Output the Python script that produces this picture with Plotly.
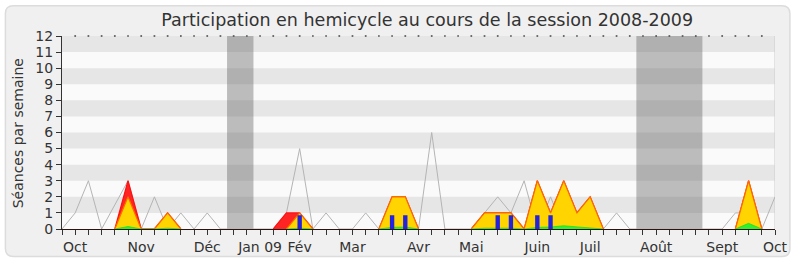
import plotly.graph_objects as go

weeks = list(range(55))
month_labels = {1: "Oct", 6: "Nov", 11: "Déc", 15: "Jan 09", 18: "Fév", 22: "Mar",
                27: "Avr", 31: "Mai", 36: "Juin", 40: "Juil", 45: "Août", 50: "Sept", 54: "Oct"}
tick_text = [month_labels.get(w, "") for w in weeks]

# median participation (grey line)
median = [0, 1, 3, 0, 1.5, 3, 0, 2, 0, 1,
          0, 1, 0, 0, 0, 0, 0, 1, 5, 0,
          1, 0, 0, 1, 0, 0, 0, 0, 6, 0,
          0, 0, 1, 2, 1, 3, 0, 2, 0, 0,
          0, 0, 1, 0, 0, 0, 0, 0, 0, 0,
          0, 1, 1, 0, 2]
# présences (red)
presence = [0, 0, 0, 0, 0, 3, 0, 0, 1, 0,
            0, 0, 0, 0, 0, 0, 0, 1, 1, 0,
            0, 0, 0, 0, 0, 2, 2, 0, 0, 0,
            0, 0, 1, 1, 1, 0, 3, 1, 3, 1,
            2, 0, 0, 0, 0, 0, 0, 0, 0, 0,
            0, 0, 3, 0, 0]
# séances (yellow)
seances = [0, 0, 0, 0, 0, 2, 0, 0, 1, 0,
           0, 0, 0, 0, 0, 0, 0, 0, 1, 0,
           0, 0, 0, 0, 0, 2, 2, 0, 0, 0,
           0, 0, 1, 1, 1, 0, 3, 1, 3, 1,
           2, 0, 0, 0, 0, 0, 0, 0, 0, 0,
           0, 0, 3, 0, 0]
# interventions (green)
interventions = [0, 0, 0, 0, 0, 0.15, 0, 0, 0.05, 0,
                 0, 0, 0, 0, 0, 0, 0, 0, 0.05, 0,
                 0, 0, 0, 0, 0, 0.1, 0.12, 0, 0, 0,
                 0, 0, 0.05, 0.05, 0.05, 0, 0.1, 0.12, 0.2, 0.13,
                 0.08, 0, 0, 0, 0, 0, 0, 0, 0, 0,
                 0, 0, 0.35, 0, 0]
# questions (blue bars)
question_weeks = [18, 25, 26, 33, 34, 36, 37]
question_vals = [0.85, 0.85, 0.85, 0.85, 0.85, 0.85, 0.85]
# vacances parlementaires (weeks)
vacations = [(12.5, 14.5), (43.5, 48.5)]
dot_weeks = list(range(1, 54))

L, R, T, B, W, H = 62, 20, 36, 34, 800, 267
pw, ph = W - L - R, H - T - B


def fx(px):
    return (px - L) / pw


def fy(py):
    return (H - B - py) / ph


def mask(vals):
    out = []
    n = len(vals)
    for i, v in enumerate(vals):
        near = [vals[j] for j in (i - 1, i, i + 1) if 0 <= j < n]
        out.append(v if any(u != 0 for u in near) else None)
    return out


fig = go.Figure()
fig.add_trace(go.Scatter(x=weeks, y=median, mode="lines",
                         line=dict(color="#b4b4b4", width=1), hoverinfo="skip"))
fig.add_trace(go.Scatter(x=weeks, y=mask(presence), mode="lines", fill="tozeroy",
                         fillcolor="#ff2424", line=dict(color="#ff1010", width=1.2)))
fig.add_trace(go.Scatter(x=weeks, y=mask(seances), mode="lines", fill="tozeroy",
                         fillcolor="#ffd400", line=dict(color="#ff6a00", width=1.2)))
fig.add_trace(go.Scatter(x=weeks, y=mask(interventions), mode="lines", fill="tozeroy",
                         fillcolor="#30f030", line=dict(color="#22dd22", width=0.8)))

hw = 0.165
bx, by = [], []
for w, v in zip(question_weeks, question_vals):
    bx += [w - hw, w + hw, w + hw, w - hw, w - hw, None]
    by += [0, 0, v, v, 0, None]
fig.add_trace(go.Scatter(x=bx, y=by, mode="lines", fill="toself", fillcolor="#2323dd",
                         line=dict(width=0, color="#2323dd")))
fig.add_trace(go.Scatter(x=dot_weeks, y=[12] * len(dot_weeks), mode="markers",
                         marker=dict(symbol="square", size=1.7, color="#555555"),
                         cliponaxis=False))

shapes = []
r = 8
x0, y0, x1, y1 = 5, 5, 795, 261
path = (f"M {fx(x0+r)},{fy(y0)} L {fx(x1-r)},{fy(y0)} Q {fx(x1)},{fy(y0)} {fx(x1)},{fy(y0+r)} "
        f"L {fx(x1)},{fy(y1-r)} Q {fx(x1)},{fy(y1)} {fx(x1-r)},{fy(y1)} "
        f"L {fx(x0+r)},{fy(y1)} Q {fx(x0)},{fy(y1)} {fx(x0)},{fy(y1-r)} "
        f"L {fx(x0)},{fy(y0+r)} Q {fx(x0)},{fy(y0)} {fx(x0+r)},{fy(y0)} Z")
shapes.append(dict(type="path", xref="paper", yref="paper", path=path,
                   fillcolor="#f0f0f0", line=dict(color="#dcdcdc", width=1.5), layer="below"))
shapes.append(dict(type="rect", xref="x", yref="y", x0=0, x1=54, y0=0, y1=12,
                   fillcolor="#fafafa", line=dict(width=0), layer="below"))
for k in range(1, 12, 2):
    shapes.append(dict(type="rect", xref="x", yref="y", x0=0, x1=54, y0=k, y1=k + 1,
                       fillcolor="#e6e6e6", line=dict(width=0), layer="below"))
for a, b in vacations:
    shapes.append(dict(type="rect", xref="x", yref="y", x0=a, x1=b, y0=0, y1=12,
                       fillcolor="rgba(95,95,95,0.4)", line=dict(width=0), layer="below"))
shapes.append(dict(type="line", xref="x", yref="y", x0=54, x1=54, y0=0, y1=12,
                   line=dict(color="#cccccc", width=1), layer="below"))

font = "DejaVu Sans"
fig.update_layout(
    width=W, height=H, margin=dict(l=L, r=R, t=T, b=B),
    paper_bgcolor="white", plot_bgcolor="rgba(0,0,0,0)",
    showlegend=False, shapes=shapes,
    font=dict(family=font, size=13, color="#333333"),
    title=dict(text="Participation en hemicycle au cours de la session 2008-2009",
               x=0.534, xanchor="center", y=1 - 20 / H, yanchor="middle",
               font=dict(family=font, size=17.5, color="#333333")),
    xaxis=dict(range=[0, 54], tickvals=weeks, ticktext=tick_text, tickangle=0,
               showgrid=False, zeroline=False, showline=True, linecolor="#2a1510", linewidth=1,
               ticks="outside", ticklen=5, tickcolor="#333333", tickwidth=1,
               tickfont=dict(family=font, size=14, color="#333333")),
    yaxis=dict(range=[0, 12], dtick=1, showgrid=False, zeroline=False,
               showline=True, linecolor="#333333", linewidth=1,
               ticks="outside", ticklen=5, tickcolor="#333333",
               tickfont=dict(family=font, size=14, color="#333333")),
    annotations=[dict(text="Séances par semaine", textangle=-90, xref="paper", yref="paper",
                      x=fx(18), y=fy(135), xanchor="center", yanchor="middle", showarrow=False,
                      font=dict(family=font, size=14, color="#333333"))],
)

fig.write_html("out.html")
